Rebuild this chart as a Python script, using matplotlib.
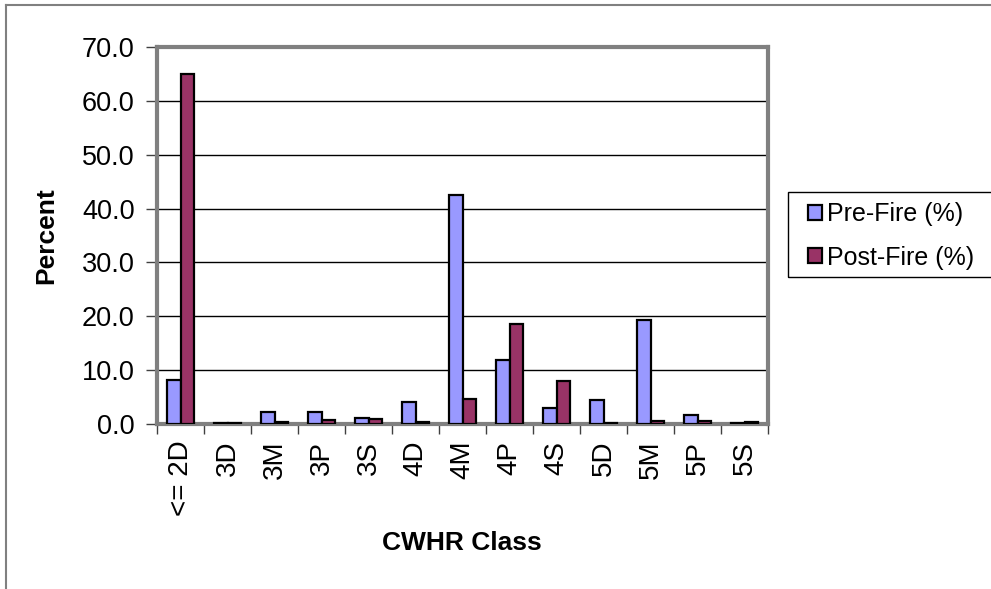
import matplotlib
matplotlib.use('Agg')
import matplotlib.pyplot as plt
from matplotlib.lines import Line2D
from matplotlib.patches import Rectangle
import numpy as np

plt.rcParams['font.family'] = ['Liberation Sans', 'DejaVu Sans']

# data
classes = ['<= 2D', '3D', '3M', '3P', '3S', '4D', '4M', '4P', '4S', '5D', '5M', '5P', '5S']
pre_fire = [8.2, 0.2, 2.3, 2.2, 1.1, 4.0, 42.5, 11.8, 2.9, 4.5, 19.4, 1.6, 0.2]
post_fire = [65.0, 0.1, 0.3, 0.8, 1.0, 0.4, 4.7, 18.6, 8.0, 0.1, 0.5, 0.6, 0.3]

pre_color = '#9999FF'
post_color = '#993366'
fs = 19.5

fig = plt.figure(figsize=(9.91, 5.89), dpi=100)
ax = fig.add_axes([157 / 991, 1 - 424 / 589, (768 - 157) / 991, (424 - 47) / 589])

x = np.arange(len(classes))
w = 0.29
ax.bar(x - w / 2, pre_fire, w, color=pre_color, edgecolor='black', linewidth=1.6,
       label='Pre-Fire (%)', zorder=3)
ax.bar(x + w / 2, post_fire, w, color=post_color, edgecolor='black', linewidth=1.6,
       label='Post-Fire (%)', zorder=3)

ax.set_xlim(-0.5, len(classes) - 0.5)
ax.set_ylim(0, 70)
ax.set_yticks(np.arange(0, 71, 10))
ax.set_yticklabels(['%.1f' % v for v in np.arange(0, 71, 10)], fontsize=fs)
ax.yaxis.grid(True, color='black', linewidth=1.0, zorder=0)

ax.set_xticks(np.arange(-0.5, len(classes), 1.0), minor=False)
ax.set_xticklabels([])
ax.set_xticks(x, minor=True)
ax.set_xticklabels(classes, minor=True, rotation=90, fontsize=20, va='top', ha='center')
ax.tick_params(axis='x', which='minor', length=0, pad=12)
ax.tick_params(axis='x', which='major', length=7, width=1, color='#404040', direction='out')
ax.tick_params(axis='y', length=8, width=1, color='#404040', direction='out', pad=8)

for side in ['left', 'right', 'top', 'bottom']:
    ax.spines[side].set_color('#808080')
    ax.spines[side].set_linewidth(3)

ax.set_ylabel('Percent', fontsize=19, fontweight='bold')
ax.yaxis.set_label_coords((58 - 157) / 611, 0.5)
fig.text(462 / 991, 1 - 543 / 589, 'CWHR Class', fontsize=19, fontweight='bold',
         ha='center', va='center')

leg = fig.legend(loc='upper left', bbox_to_anchor=(788 / 991, 1 - 182 / 589),
                 frameon=False, fontsize=18, handlelength=0.55, handleheight=0.55,
                 handletextpad=0.2, labelspacing=0.78, borderpad=0.3)
for h in leg.legend_handles:
    h.set_edgecolor('black')
    h.set_linewidth(1.6)

fig.add_artist(Rectangle((788 / 991, 1 - 277 / 589), 0.3, 85 / 589,
                         transform=fig.transFigure, fill=False,
                         edgecolor='black', linewidth=1.0))

# outer chart border (left and top visible)
fig.add_artist(Line2D([6 / 991, 6 / 991], [0, 1 - 5 / 589], transform=fig.transFigure,
                      color='#808080', linewidth=1.5))
fig.add_artist(Line2D([6 / 991, 990 / 991], [1 - 5 / 589, 1 - 5 / 589],
                      transform=fig.transFigure, color='#808080', linewidth=1.5))

fig.savefig('out.png', dpi=100)
